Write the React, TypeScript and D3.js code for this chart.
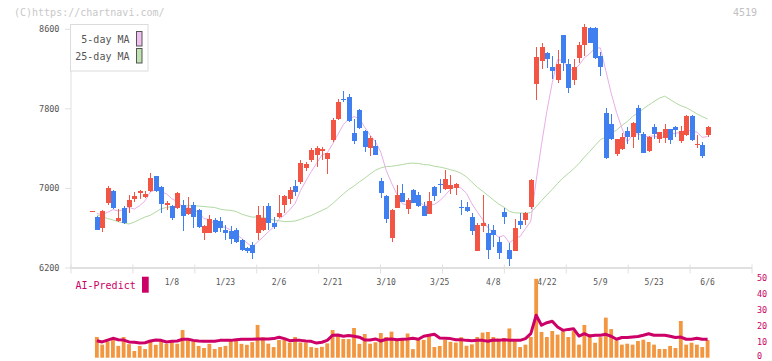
import React from 'react';
import * as d3 from 'd3';

const opens = [6770,6716,6605,6853,6974,6672,6800,6816,6890,6954,6914,6974,7125,7010,6836,6823,6800,6833,6743,6833,6783,6555,6555,6683,6672,6582,6575,6582,6481,6404,6434,6555,6582,6823,6655,6716,6833,6894,7024,7068,7202,7286,7336,7380,7296,7487,7698,7900,7922,7561,7789,7577,7410,7430,7075,6924,6505,6806,6957,6793,6984,6934,6823,6746,7011,7040,6997,6994,7001,6810,6816,6716,6374,6625,6555,6582,6458,6767,6381,6374,6672,6683,6816,8050,8285,8359,8225,8090,8538,8248,8090,8315,8445,8610,8610,8332,7756,7648,7346,7393,7577,7520,7812,7547,7376,7621,7497,7510,7594,7614,7477,7537,7728,7440,7437,7537];
const highs = [6770,6720,6780,7027,6980,6790,6823,6934,6967,6980,6971,7155,7130,7020,6877,6830,6967,6884,6914,6867,6790,6630,6733,6700,6716,6632,6622,6599,6492,6410,6458,6823,6823,6857,6716,6934,6934,7011,7085,7286,7269,7410,7427,7420,7360,7711,7896,7980,7950,7695,7795,7590,7527,7487,7108,6935,6790,7034,7044,6900,6994,6961,6867,6967,7020,7092,7185,7135,7050,6884,6867,6756,6650,6934,6642,6632,6515,6800,6448,6690,6750,6760,7090,8425,8459,8369,8332,8392,8545,8298,8298,8476,8653,8620,8620,8376,7806,7745,7500,7554,7621,7671,7836,7570,7530,7645,7570,7648,7600,7625,7628,7741,7741,7537,7470,7625];
const lows = [6770,6580,6565,6836,6790,6660,6645,6750,6867,6890,6900,6960,6960,6757,6783,6683,6790,6575,6733,6599,6599,6481,6550,6549,6565,6481,6441,6448,6374,6354,6287,6481,6575,6582,6592,6700,6756,6843,6924,7044,7178,7269,7212,7286,7142,7470,7690,7873,7670,7447,7594,7370,7326,7340,6907,6655,6465,6800,6860,6746,6850,6816,6720,6740,6877,6951,6984,6944,6934,6736,6760,6532,6374,6565,6287,6414,6287,6642,6220,6370,6592,6635,6797,7889,8198,8215,8097,8063,8184,7963,8040,8258,8332,8460,8300,8130,7300,7490,7326,7390,7447,7403,7487,7355,7363,7497,7460,7460,7450,7520,7453,7530,7480,7403,7309,7514];
const closes = [6770,6582,6773,7004,6806,6703,6649,6884,6924,6974,6947,7105,6975,6840,6857,6706,6957,6726,6806,6709,6615,6625,6693,6565,6605,6555,6492,6465,6381,6374,6354,6733,6706,6649,6615,6756,6924,6984,6967,7252,7246,7386,7403,7396,7356,7688,7873,7893,7678,7477,7604,7420,7504,7340,6957,6693,6783,6934,6867,6884,6857,6823,6726,6874,6920,7034,7095,7038,7044,6800,6776,6575,6632,6655,6381,6532,6354,6709,6287,6599,6635,6750,7085,8325,8419,8305,8184,8251,8265,8013,8225,8442,8626,8466,8309,8218,7303,7497,7497,7520,7520,7655,7561,7359,7520,7547,7564,7594,7487,7587,7577,7728,7487,7450,7326,7617];
const volumes = [null,13.0,8.2,10.3,11.7,7.4,13.0,8.5,4.2,7.4,5.5,10.1,8.1,10.7,8.7,10.0,8.8,17.4,10.9,10.3,7.4,6.1,8.7,5.5,6.7,7.4,11.0,10.9,8.7,8.1,9.8,20.6,12.9,8.8,6.7,11.1,11.4,9.5,13.0,9.6,9.5,6.7,6.2,6.8,9.0,17.4,14.9,11.8,11.7,18.7,8.7,14.9,8.8,9.7,15.5,13.0,16.4,12.0,11.8,15.2,5.4,11.5,11.2,14.5,6.7,7.4,11.2,10.0,9.5,12.9,7.5,8.4,13.0,15.8,16.2,13.0,12.1,12.4,18.4,10.3,6.7,8.2,13.0,49.6,16.2,13.0,16.8,14.5,16.6,13.0,16.8,8.2,20.6,14.9,9.4,12.9,25.2,18.0,10.9,8.2,8.8,8.2,10.5,11.3,9.9,8.2,5.5,5.5,7.4,6.1,23.1,8.2,9.4,8.2,6.7,11.1];
const aiPredict = [null,10.7,9.9,11.1,12.2,11.3,11.1,9.9,9.7,9.2,9.4,10.5,11.1,10.9,9.9,10.3,10.5,11.6,11.6,10.9,10.5,10.3,10.3,10.3,10.9,10.9,10.9,11.3,11.6,11.6,11.6,11.8,11.8,11.8,12.0,12.9,12.0,10.7,10.9,10.9,10.5,10.3,9.2,9.7,10.9,14.1,14.3,13.5,13.9,13.5,12.9,11.1,11.1,11.8,10.5,11.6,11.8,11.3,11.6,11.8,12.2,11.6,13.5,14.1,14.7,12.4,12.2,12.0,11.3,11.3,10.9,10.7,10.9,10.9,10.3,11.1,10.9,11.3,11.0,10.9,10.9,12.0,15.1,26.7,20.4,22.0,22.9,19.3,17.2,17.8,18.2,13.6,15.1,13.6,14.1,14.1,14.7,13.5,11.6,12.7,12.7,13.0,13.3,14.1,15.1,14.1,14.1,14.1,13.5,12.7,13.0,11.6,11.6,12.2,11.6,11.6];
const ma5Head = [null, 6750, 6735, 6760];
const ma25Head = [null,6733,6718,6698,6683,6666,6652,6642,6662,6688,6713,6730,6763,6796,6808,6818,6823,6823,6826,6826,6823,6818,6813,6808];
const xLabels = ['1/8','1/23','2/6','2/21','3/10','3/25','4/8','4/22','5/9','5/23','6/6'];
const xLabelIdx = [15,25,35,45,55,65,75,85,95,105,115];
const priceTicks = [6200,7000,7800,8600];
const volTicks = [0,10,20,30,40,50];

const UP = '#f25544';
const DOWN = '#3f7ff0';
const MONO = '"DejaVu Sans Mono", "Liberation Mono", monospace';

function movingAvg(n: number, head: (number | null)[]): (number | null)[] {
  return closes.map((_, i) => {
    if (i < n - 1) return head[i] ?? null;
    return d3.mean(closes.slice(i - n + 1, i + 1)) as number;
  });
}

export default function App() {
  const x = d3.scaleLinear().domain([0, 115]).range([91.5, 707.6]);
  const y = d3.scaleLinear().domain([6200, 8600]).range([268, 29.3]);
  const yv = d3.scaleLinear().domain([0, 50]).range([357.7, 278.2]);
  const grid = d3.scaleLinear().domain([0, 11]).range([71, 752]);

  const ma5 = movingAvg(5, ma5Head);
  const ma25 = movingAvg(25, ma25Head);

  const lineP = d3.line<number | null>()
    .defined((d) => d != null)
    .x((_, i) => x(i))
    .y((d) => y(d as number));
  const lineV = d3.line<number | null>()
    .defined((d) => d != null)
    .x((_, i) => x(i))
    .y((d) => yv(d as number));

  const cw = 5;
  const vw = 3.8;

  return (
    <svg width={772} height={361} style={{ position: 'absolute', left: 0, top: 0, background: '#fff' }} fontFamily={MONO}>
      <rect x={0} y={0} width={772} height={361} fill="#fff" />
      <text x={14} y={15.5} fontSize={10} fill="#c8c8c8">(C)https://chartnavi.com/</text>
      <text x={733} y={15.5} fontSize={10} fill="#c0c0c0">4519</text>

      {/* axes */}
      <line x1={71} x2={71} y1={24} y2={268} stroke="#e0e0e0" strokeWidth={1} />
      <line x1={70} x2={752} y1={268} y2={268} stroke="#e0e0e0" strokeWidth={2} />
      {d3.range(12).map((k) => (
        <line key={'g' + k} x1={grid(k)} x2={grid(k)} y1={264.5} y2={273.5} stroke="#e0e0e0" strokeWidth={1} />
      ))}
      {priceTicks.map((p) => (
        <g key={'p' + p}>
          <line x1={65} x2={71} y1={y(p)} y2={y(p)} stroke="#e0e0e0" />
          <text x={59.5} y={y(p) + 3} fontSize={8.5} textAnchor="end" fill="#555">{p}</text>
        </g>
      ))}
      {xLabels.map((l, k) => (
        <text key={'x' + k} x={x(xLabelIdx[k])} y={285} fontSize={8} textAnchor="middle" fill="#555">{l}</text>
      ))}

      {/* moving averages */}
      <path d={lineP(ma25) || ''} fill="none" stroke="#b2d9a2" strokeWidth={1} />
      <path d={lineP(ma5) || ''} fill="none" stroke="#e8aee8" strokeWidth={1} />

      {/* candles */}
      {closes.map((c, i) => {
        const o = opens[i];
        const up = c >= o;
        const col = up ? UP : DOWN;
        const top = y(Math.max(o, c));
        const bot = y(Math.min(o, c));
        const xc = Math.round(x(i));
        return (
          <g key={'c' + i} shapeRendering="crispEdges">
            <rect x={xc - 0.5} y={y(highs[i])} width={1} height={Math.max(1, y(lows[i]) - y(highs[i]))} fill={col} />
            <rect x={xc - cw / 2} y={top} width={cw} height={Math.max(1, bot - top)} fill={col} />
          </g>
        );
      })}

      {/* legend */}
      <rect x={70.5} y={24.5} width={77.5} height={46.5} fill="#fff" stroke="#dcdcdc" />
      <text x={129.5} y={43} fontSize={10} textAnchor="end" fill="#555">5-day MA</text>
      <text x={129.5} y={60} fontSize={10} textAnchor="end" fill="#555">25-day MA</text>
      <rect x={136.5} y={31.5} width={5.5} height={14.5} fill="#f0c0f0" stroke="#555" />
      <rect x={136.5} y={48.5} width={5.5} height={14.5} fill="#c0e2b0" stroke="#555" />

      {/* volume panel */}
      <text x={75.5} y={289} fontSize={10} fill="#cc0066">AI-Predict</text>
      <rect x={142} y={276.7} width={6.7} height={16} fill="#cc0066" />
      {volumes.map((v, i) =>
        v == null ? null : (
          <rect key={'v' + i} x={x(i) - vw / 2} y={yv(v)} width={vw} height={yv(0) - yv(v)} fill="#f2963f" />
        )
      )}
      <path d={lineV(aiPredict) || ''} fill="none" stroke="#cc0066" strokeWidth={3} strokeLinejoin="round" />
      {volTicks.map((t) => (
        <text key={'vt' + t} x={757} y={Math.min(yv(t) + 3, 359)} fontSize={8.5} fill="#cc0066">{t}</text>
      ))}
    </svg>
  );
}
